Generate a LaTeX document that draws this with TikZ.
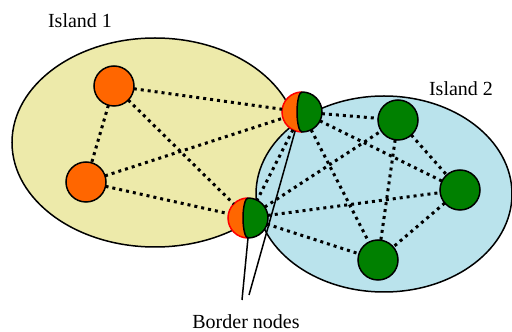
\documentclass[tikz,border=0pt]{standalone}
\usepackage{fontspec}
\setmainfont{Liberation Serif}
\definecolor{islandA}{RGB}{237,234,170}
\definecolor{islandB}{RGB}{186,227,236}
\definecolor{nodeorange}{RGB}{255,102,0}
\definecolor{nodegreen}{RGB}{0,128,0}
\tikzset{
  island/.style={draw=black, line width=1.5pt},
  peer/.style={circle, minimum size=40pt, inner sep=0pt, outer sep=0pt},
  orangepeer/.style={peer, draw=black, line width=1.5pt, fill=nodeorange},
  greenpeer/.style={peer, draw=black, line width=1.5pt, fill=nodegreen},
  borderpeer/.style={peer},
  link/.style={line width=3pt, dash pattern=on 3pt off 4pt},
  label/.style={font=\fontsize{20}{24}\selectfont, inner sep=0pt},
  pointer/.style={line width=1.5pt}
}
% a border node: orange half with red rim, green half with black rim
\newcommand\halfball[1]{%
  \fill[nodeorange] (#1) circle (20pt);
  \fill[nodegreen] (#1.north) arc[start angle=90, end angle=-90, radius=20pt]
    arc[start angle=270, end angle=90, x radius=5pt, y radius=20pt];
  \draw[red, line width=1.5pt] (#1.north) arc[start angle=90, end angle=270, radius=20pt];
  \draw[black, line width=1.5pt] (#1.north) arc[start angle=90, end angle=-90, radius=20pt]
    arc[start angle=270, end angle=90, x radius=5pt, y radius=20pt];
}
\begin{document}
\begin{tikzpicture}[x=1pt, y=1pt]
\useasboundingbox (0,0) rectangle (512,332);
\begin{scope}
  \clip (0,0) rectangle (512,332);
  \filldraw[island, fill=islandA] (155,189.5) ellipse [x radius=143, y radius=104.5];
  \filldraw[island, fill=islandB] (384,138) ellipse [x radius=128, y radius=98];
\end{scope}

% nodes
\node[orangepeer] (A) at (114,246) {};
\node[orangepeer] (B) at (86,150) {};
\node[borderpeer] (C) at (302,220) {};
\node[borderpeer] (D) at (248,114) {};
\node[greenpeer] (E) at (398,212) {};
\node[greenpeer] (F) at (460,142) {};
\node[greenpeer] (G) at (378,72) {};
\halfball{C}
\halfball{D}

% links
\draw[link] (A) -- (B);
\draw[link] (A) -- (C);
\draw[link] (A) -- (D);
\draw[link] (B) -- (C);
\draw[link] (B) -- (D);
\draw[link] (C) -- (D);
\draw[link] (C) -- (E);
\draw[link] (C) -- (F);
\draw[link] (C) -- (G);
\draw[link] (D) -- (E);
\draw[link] (D) -- (F);
\draw[link] (D) -- (G);
\draw[link] (E) -- (F);
\draw[link] (E) -- (G);
\draw[link] (F) -- (G);

% labels
\node[label] (i1) at (80,311) {Island 1};
\node[label] (i2) at (461,243) {Island 2};
\node[label] (bn) at (246,10) {Border nodes};
\coordinate (p1) at (242,32);
\coordinate (p2) at (249,37);
\draw[pointer] (p1) -- (D.south);
\draw[pointer] (p2) -- (C.250);
\end{tikzpicture}
\end{document}
